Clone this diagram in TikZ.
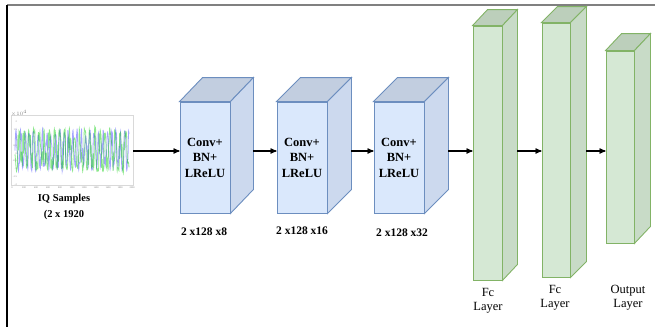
\documentclass[tikz,border=0pt]{standalone}
\usepackage{fontspec}
\setmainfont{Liberation Serif}
\usepackage{tikz}
\usetikzlibrary{arrows,positioning}

\definecolor{convfill}{HTML}{DAE8FC}
\definecolor{convside}{HTML}{CCD9EE}
\definecolor{convtop}{HTML}{C2CEE0}
\definecolor{convline}{HTML}{6C8EBF}
\definecolor{fcfill}{HTML}{D5E8D4}
\definecolor{fcside}{HTML}{C8DBC7}
\definecolor{fctop}{HTML}{BCCFBB}
\definecolor{fcline}{HTML}{82B366}

\tikzset{
  arr/.style={-stealth',line width=1.2pt,black},
  convbox/.style={draw=convline,fill=convfill,line width=0.9pt,align=center,
    font=\fontsize{12.5}{15.5}\selectfont\bfseries},
  fcbox/.style={draw=fcline,fill=fcfill,line width=0.9pt},
  dimlbl/.style={font=\fontsize{11.5}{13}\selectfont\bfseries},
  fclbl/.style={align=center,font=\fontsize{12.5}{14.5}\selectfont}
}

% top and side face of a box, #1 node, #2 dx, #3 dy, #4 colour prefix
\newcommand{\boxfaces}[4]{
\draw[draw=#4line,fill=#4top,line width=0.9pt] (#1.north west) -- ++(#2,-#3)
  -- ([shift={(#2,-#3)}]#1.north east) -- (#1.north east) -- cycle;
\draw[draw=#4line,fill=#4side,line width=0.9pt] (#1.north east)
  -- ([shift={(#2,-#3)}]#1.north east) -- ([shift={(#2,-#3)}]#1.south east)
  -- (#1.south east) -- cycle;
\coordinate (#1-b) at ([shift={(#2,-#3)}]#1.east);
}

\begin{document}
\begin{tikzpicture}[x=1pt,y=-1pt]
\useasboundingbox (0,0) rectangle (655,327);
\draw[gray,line width=1.2pt] (7,5) -- (655,5); % frame
\draw[black,line width=1.2pt] (7,5) -- (7,327);
\coordinate (lvl) at (0,151);

% IQ samples plot
\node[draw=gray!30,line width=0.3pt,minimum width=122,minimum height=70,inner sep=0] (iq) at (72,150) {};
\begin{scope}
\clip (iq.south west) rectangle (iq.north east);
\pgfmathsetseed{7}
\draw[blue!70,opacity=0.5,line width=0.8pt] plot[samples=230,domain=15:129,smooth]
  (\x,{150+19*sin(83*\x+50*rand)+2*rand});
\draw[green!80!black,opacity=0.45,line width=0.8pt] plot[samples=230,domain=15:129,smooth]
  (\x,{150+20*sin(71*\x+60*rand)+2*rand});
\end{scope}
\foreach \v [count=\i from 0] in {0,200,400,600,800,1000,1200,1400,1600,1800,2000}
  \node[gray,font=\fontsize{2.5}{3}\selectfont,inner sep=0] at (12+\i*12,188) {\v};
\foreach \v [count=\i from 0] in {2,1.5,1,0.5,0,-0.5,-1,-1.5,-2}
  \node[gray,font=\fontsize{2.5}{3}\selectfont,inner sep=0,anchor=east] at (17,122+\i*7.8) {\v};
\node[gray,font=\fontsize{2.5}{3}\selectfont,inner sep=0] at (19,113) {$\times10^4$};
\node[align=center,font=\fontsize{10.5}{16}\selectfont\bfseries] (iqlbl) at (64,207) {IQ Samples\\(2 x 1920};

% conv blocks
\node[convbox,minimum width=50,minimum height=111] (conv1) at (205,157.5) {Conv+\\BN+\\LReLU};
\boxfaces{conv1}{23}{24}{conv}
\node[convbox,minimum width=50,minimum height=111] (conv2) at (302,157.5) {Conv+\\BN+\\LReLU};
\boxfaces{conv2}{24}{24}{conv}
\node[convbox,minimum width=50,minimum height=111] (conv3) at (399,157.5) {Conv+\\BN+\\LReLU};
\boxfaces{conv3}{24}{24}{conv}

\node[dimlbl] (dim1) at (204,232) {2 x128 x8};
\node[dimlbl] (dim2) at (302,231) {2 x128 x16};
\node[dimlbl] (dim3) at (402,233) {2 x128 x32};

% dense layers
\node[fcbox,minimum width=29,minimum height=254] (fc1) at (487.5,153) {};
\boxfaces{fc1}{15}{16}{fc}
\node[fcbox,minimum width=28,minimum height=254] (fc2) at (556,150) {};
\boxfaces{fc2}{16}{16}{fc}
\node[fcbox,minimum width=28,minimum height=192] (out) at (620,147) {};
\boxfaces{out}{16}{17}{fc}

\node[fclbl] (fc1lbl) at (488,300.5) {Fc\\Layer};
\node[fclbl] (fc2lbl) at (555,297.5) {Fc\\Layer};
\node[fclbl] (outlbl) at (628,297.5) {Output\\Layer};

% connections
\draw[arr] (iq.east |- lvl) -- (conv1.west |- lvl);
\draw[arr] (conv1-b |- lvl) -- (conv2.west |- lvl);
\draw[arr] (conv2-b |- lvl) -- (conv3.west |- lvl);
\draw[arr] (conv3-b |- lvl) -- (fc1.west |- lvl);
\draw[arr] (fc1-b |- lvl) -- (fc2.west |- lvl);
\draw[arr] (fc2-b |- lvl) -- (out.west |- lvl);
\end{tikzpicture}
\end{document}
